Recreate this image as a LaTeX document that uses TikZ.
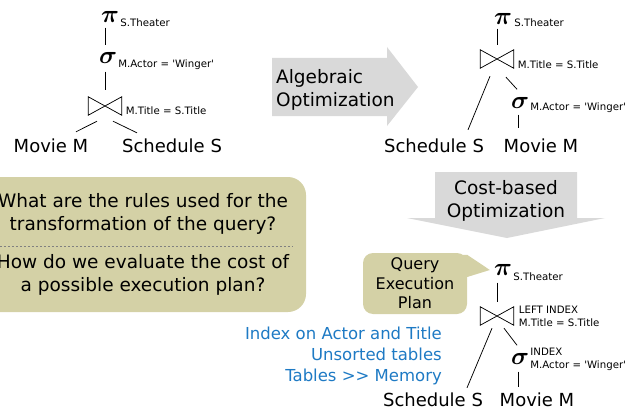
\documentclass[tikz,border=0pt]{standalone}
\usepackage{bm}
\usepackage{fontspec}
\setmainfont{DejaVu Sans}
\usetikzlibrary{positioning,calc}

\definecolor{bubblefill}{RGB}{212,209,166}
\definecolor{arrowfill}{RGB}{217,217,217}
\definecolor{noteblue}{RGB}{30,122,196}

\tikzset{
  op/.style={inner sep=0pt, font=\fontsize{24}{24}\selectfont},
  cond/.style={inner sep=0pt, anchor=west, align=left, font=\fontsize{10.2}{13}\selectfont},
  tbl/.style={inner sep=1pt, font=\fontsize{18}{20}\selectfont},
  joinbox/.style={inner sep=0pt, minimum width=33pt, minimum height=18pt},
  big/.style={inner sep=0pt, align=center, font=\fontsize{18.5}{23.3}\selectfont},
  tree/.style={line width=0.75pt},
}
\newcommand{\joinsym}[1]{\draw[tree] (#1.north west) -- (#1.south east) -- (#1.north east) -- (#1.south west) -- cycle;}
\newcommand{\winger}{M.Actor = \textquotesingle Winger\textquotesingle}

\begin{document}
\begin{tikzpicture}[x=1pt,y=-1pt]
\useasboundingbox (0,0) rectangle (627,412);

% initial query tree
\node[op] (prj1) at (110,17) {$\bm{\pi}$};
\node[cond] (prj1l) at ([xshift=1pt,yshift=-6pt]prj1.east) {S.Theater};
\node[op] (sel1) at (108,58) {$\bm{\sigma}$};
\node[cond] (sel1l) at ([xshift=1pt,yshift=-7pt]sel1.east) {\winger};
\node[joinbox] (jn1) at (105,106) {};
\joinsym{jn1}
\node[cond] (jn1l) at ([xshift=4pt,yshift=-5pt]jn1.east) {M.Title = S.Title};
\node[tbl] (mov1) at (51,146) {Movie M};
\node[tbl] (sch1) at (172,146) {Schedule S};
\draw[tree, shorten <=5pt, shorten >=7pt] (prj1.south -| jn1) -- (sel1.north -| jn1);
\draw[tree, shorten <=8pt, shorten >=7pt] (sel1.south -| jn1) -- (jn1.north);
\draw[tree] ([xshift=-8pt,yshift=-6pt]jn1.south) -- ([xshift=25pt,yshift=6pt]mov1.north);
\draw[tree] ([xshift=8pt,yshift=-6pt]jn1.south) -- ([xshift=-35pt,yshift=5pt]sch1.north);

% algebraic optimization
\fill[arrowfill] (272,58) -- (387,58) -- (387,47) -- (418,87) -- (387,126) -- (387,116) -- (272,116) -- cycle;
\node[big, align=left, anchor=west] (algtxt) at (276,90) {Algebraic\\Optimization};

% rewritten tree
\node[op] (prj2) at (503,19) {$\bm{\pi}$};
\node[cond] (prj2l) at ([xshift=2pt,yshift=-4pt]prj2.east) {S.Theater};
\node[joinbox] (jn2) at (497,59) {};
\joinsym{jn2}
\node[cond] (jn2l) at ([xshift=4pt,yshift=-6pt]jn2.east) {M.Title = S.Title};
\node[op] (sel2) at (520,103) {$\bm{\sigma}$};
\node[cond] (sel2l) at ([xshift=1pt,yshift=-5pt]sel2.east) {\winger};
\node[tbl] (sch2) at (434,146) {Schedule S};
\node[tbl] (mov2) at (541,146) {Movie M};
\draw[tree, shorten <=4pt, shorten >=5pt] (prj2.south -| jn2) -- (jn2.north);
\draw[tree] ([xshift=-7pt,yshift=-8pt]jn2.south) -- ([xshift=34pt,yshift=8pt]sch2.north);
\draw[tree] ([xshift=9pt,yshift=-9pt]jn2.south) -- ([xshift=-3pt,yshift=8pt]sel2.north);
\draw[tree] ([xshift=-2pt,yshift=-6pt]sel2.south) -- ([xshift=-23pt,yshift=10pt]mov2.north);

% cost-based optimization
\fill[arrowfill] (435,172) -- (577,172) -- (577,218) -- (605,218) -- (507,238) -- (407,218) -- (435,218) -- cycle;
\node[big] (costtxt) at (506,201) {Cost-based\\Optimization};

% questions
\node[fill=bubblefill, rounded corners=18pt, minimum width=326pt, minimum height=135pt, inner sep=0pt] (qbox) at (143,244.5) {};
\node[big] (qrules) at (143,214) {What are the rules used for the\\transformation of the query?};
\node[big] (qcost) at (143,275) {How do we evaluate the cost of\\a possible execution plan?};
\draw[gray, line width=0.6pt, dash pattern=on 2.5pt off 1.5pt] ([yshift=-1.5pt]qbox.west) -- ([xshift=-13pt,yshift=-1.5pt]qbox.east);

% execution plan
\node[op] (prj3) at (503,270) {$\bm{\pi}$};
\node[cond] (prj3l) at ([xshift=1pt,yshift=-7pt]prj3.east) {S.Theater};
\node[joinbox] (jn3) at (497,316) {};
\joinsym{jn3}
\node[cond] (jn3l) at ([xshift=5pt]jn3.east) {LEFT INDEX\\M.Title = S.Title};
\node[op] (sel3) at (520,359) {$\bm{\sigma}$};
\node[cond] (sel3l) at ([xshift=1pt]sel3.east) {INDEX\\\winger};
\node[tbl] (sch3) at (433,400) {Schedule S};
\node[tbl] (mov3) at (537,400) {Movie M};
\draw[tree, shorten <=7pt, shorten >=5pt] (prj3.south -| jn3) -- (jn3.north);
\draw[tree] ([xshift=-5pt,yshift=-3pt]jn3.south) -- ([xshift=34pt,yshift=4pt]sch3.north);
\draw[tree] ([xshift=7pt,yshift=-3pt]jn3.south) -- ([xshift=-3pt,yshift=8pt]sel3.north);
\draw[tree] ([xshift=-2pt,yshift=-7pt]sel3.south) -- ([xshift=-19pt,yshift=5pt]mov3.north);

\node[fill=bubblefill, rounded corners=10pt, minimum width=104pt, minimum height=61pt, inner sep=0pt, align=center, font=\fontsize{16}{19.5}\selectfont] (qep) at (415,283.5) {Query\\Execution\\Plan};
\fill[bubblefill] ([yshift=-2pt]qep.north east) -- ([xshift=-4pt]prj3.west) -- ([yshift=6.5pt]qep.east) -- ([xshift=-6pt,yshift=6.5pt]qep.east) -- ([xshift=-6pt,yshift=-2pt]qep.north east) -- cycle;

\node[anchor=east, inner sep=0pt, align=right, text=noteblue, font=\fontsize{16.5}{21}\selectfont] (notes) at (442,356) {Index on Actor and Title\\Unsorted tables\\Tables >{}> Memory};
\end{tikzpicture}
\end{document}
